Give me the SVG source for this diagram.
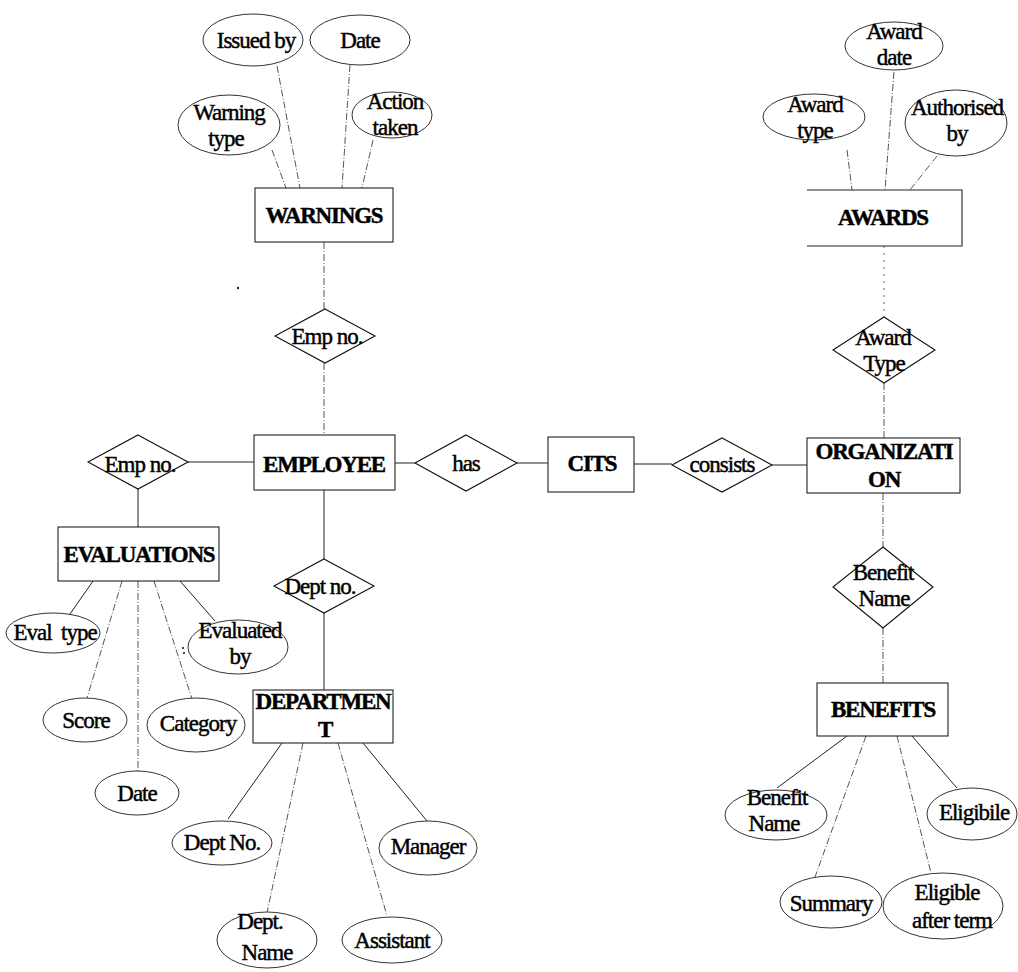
<svg xmlns="http://www.w3.org/2000/svg" width="1018" height="972" viewBox="0 0 1018 972">
  <style>
    .ent rect, .ent path { fill: #fff; stroke: #222; stroke-width: 1.1; }
    .attr ellipse { fill: #fff; stroke: #333; stroke-width: 1; }
    .rel polygon { fill: #fff; stroke: #111; stroke-width: 1.1; }
    text { font-family: "Liberation Serif", "Times New Roman", serif; fill: #000; text-anchor: middle; stroke: #000; stroke-width: 0.45; }
    .ent text { font-size: 23px; font-weight: bold; letter-spacing: -1.2px; }
    .attr text, .rel text { font-size: 23px; letter-spacing: -1px; }
    .ln { stroke: #222; stroke-width: 1; fill: none; }
    .dl { stroke: #555; stroke-width: 1; fill: none; stroke-dasharray: 7 2 1 2; }
    .dt { stroke: #666; stroke-width: 1; fill: none; stroke-dasharray: 2 5; }
  </style>

  <!-- connectors -->
  <g id="connectors">
    <!-- WARNINGS attributes -->
    <line class="dl" x1="277" y1="66" x2="300" y2="188"/>
    <line class="dl" x1="350" y1="65" x2="342" y2="188"/>
    <line class="dl" x1="272" y1="150" x2="286" y2="188"/>
    <line class="dl" x1="373" y1="140" x2="362" y2="188"/>
    <!-- WARNINGS / Emp no. / EMPLOYEE -->
    <line class="dl" x1="324" y1="242" x2="324" y2="309"/>
    <line class="dl" x1="324" y1="363" x2="324" y2="435"/>
    <!-- AWARDS attributes -->
    <line class="dl" x1="847" y1="150" x2="852" y2="190"/>
    <line class="dl" x1="894" y1="72" x2="885" y2="190"/>
    <line class="dl" x1="937" y1="156" x2="910" y2="190"/>
    <!-- AWARDS / Award Type / ORGANIZATION -->
    <line class="dt" x1="884" y1="246" x2="884" y2="317"/>
    <line class="dl" x1="884" y1="383" x2="884" y2="438"/>
    <!-- central row -->
    <line class="ln" x1="188" y1="462" x2="254" y2="462"/>
    <line class="ln" x1="395" y1="463" x2="415" y2="463"/>
    <line class="ln" x1="517" y1="463" x2="548" y2="463"/>
    <line class="ln" x1="634" y1="464" x2="672" y2="464"/>
    <line class="ln" x1="772" y1="465" x2="807" y2="465"/>
    <!-- Emp no. / EVALUATIONS -->
    <line class="ln" x1="138" y1="489" x2="138" y2="527"/>
    <!-- EVALUATIONS attributes -->
    <line class="ln" x1="93" y1="581" x2="70" y2="614"/>
    <line class="dl" x1="122" y1="581" x2="87" y2="698"/>
    <line class="dl" x1="138" y1="581" x2="138" y2="771"/>
    <line class="dl" x1="154" y1="581" x2="192" y2="699"/>
    <line class="ln" x1="180" y1="581" x2="215" y2="621"/>
    <!-- EMPLOYEE / Dept no. / DEPARTMENT -->
    <line class="ln" x1="324" y1="490" x2="324" y2="559"/>
    <line class="ln" x1="324" y1="613" x2="324" y2="690"/>
    <!-- DEPARTMENT attributes -->
    <line class="ln" x1="282" y1="743" x2="228" y2="819"/>
    <line class="dl" x1="303" y1="743" x2="267" y2="913"/>
    <line class="dl" x1="338" y1="743" x2="387" y2="916"/>
    <line class="ln" x1="363" y1="743" x2="427" y2="821"/>
    <!-- ORGANIZATION / Benefit Name / BENEFITS -->
    <line class="dl" x1="883" y1="493" x2="883" y2="547"/>
    <line class="dl" x1="883" y1="628" x2="883" y2="683"/>
    <!-- BENEFITS attributes -->
    <line class="ln" x1="847" y1="736" x2="777" y2="788"/>
    <line class="dl" x1="866" y1="736" x2="815" y2="877"/>
    <line class="dl" x1="897" y1="736" x2="931" y2="873"/>
    <line class="ln" x1="912" y1="736" x2="957" y2="788"/>
  </g>

  <!-- entities -->
  <g id="warnings" class="ent">
    <rect x="255" y="188" width="138" height="54"/>
    <text x="324" y="223">WARNINGS</text>
  </g>
  <g id="awards" class="ent">
    <!-- open on the left side -->
    <path d="M807,190 H962 V246 H807"/>
    <text x="883" y="225">AWARDS</text>
  </g>
  <g id="employee" class="ent">
    <rect x="254" y="435" width="141" height="55"/>
    <text x="324" y="472">EMPLOYEE</text>
  </g>
  <g id="cits" class="ent">
    <rect x="548" y="437" width="86" height="55"/>
    <text x="592" y="471">CITS</text>
  </g>
  <g id="organization" class="ent">
    <rect x="807" y="438" width="153" height="55"/>
    <text x="884" y="459">ORGANIZATI</text>
    <text x="884" y="487">ON</text>
  </g>
  <g id="evaluations" class="ent">
    <rect x="58" y="527" width="161" height="54"/>
    <text x="139" y="562">EVALUATIONS</text>
  </g>
  <g id="department" class="ent">
    <rect x="253" y="690" width="140" height="53"/>
    <text x="323" y="709">DEPARTMEN</text>
    <text x="325" y="737">T</text>
  </g>
  <g id="benefits" class="ent">
    <rect x="817" y="683" width="131" height="53"/>
    <text x="883" y="717">BENEFITS</text>
  </g>

  <!-- relationships -->
  <g id="rel-warn-empno" class="rel">
    <polygon points="325,309 375,336 325,363 275,336"/>
    <text x="327" y="344">Emp no.</text>
  </g>
  <g id="rel-award-type" class="rel">
    <polygon points="884,317 935,350 884,383 833,350"/>
    <text x="883" y="345">Award</text>
    <text x="884" y="371">Type</text>
  </g>
  <g id="rel-eval-empno" class="rel">
    <polygon points="138,435 188,462 138,489 88,462"/>
    <text x="140" y="472">Emp no.</text>
  </g>
  <g id="rel-has" class="rel">
    <polygon points="466,435 517,463 466,491 415,463"/>
    <text x="466" y="471">has</text>
  </g>
  <g id="rel-consists" class="rel">
    <polygon points="722,438 772,465 722,492 672,465"/>
    <text x="722" y="472">consists</text>
  </g>
  <g id="rel-deptno" class="rel">
    <polygon points="324,559 374,586 324,613 274,586"/>
    <text x="320" y="594">Dept no.</text>
  </g>
  <g id="rel-benefit-name" class="rel">
    <polygon points="883,547 933,587 883,628 833,587"/>
    <text x="883" y="580">Benefit</text>
    <text x="884" y="606">Name</text>
  </g>

  <!-- WARNINGS attributes -->
  <g id="attr-issued-by" class="attr">
    <ellipse cx="253" cy="40" rx="50" ry="26"/>
    <text x="256" y="48">Issued by</text>
  </g>
  <g id="attr-warn-date" class="attr">
    <ellipse cx="360" cy="40" rx="50" ry="25"/>
    <text x="360" y="48">Date</text>
  </g>
  <g id="attr-warning-type" class="attr">
    <ellipse cx="229" cy="125" rx="51" ry="30"/>
    <text x="229" y="120">Warning</text>
    <text x="226" y="146">type</text>
  </g>
  <g id="attr-action-taken" class="attr">
    <ellipse cx="392" cy="115" rx="40" ry="23"/>
    <text x="395" y="109">Action</text>
    <text x="395" y="135">taken</text>
  </g>

  <!-- AWARDS attributes -->
  <g id="attr-award-date" class="attr">
    <ellipse cx="894" cy="46" rx="49" ry="24"/>
    <text x="894" y="39">Award</text>
    <text x="894" y="65">date</text>
  </g>
  <g id="attr-award-type" class="attr">
    <ellipse cx="814" cy="117" rx="51" ry="23"/>
    <text x="815" y="112">Award</text>
    <text x="815" y="138">type</text>
  </g>
  <g id="attr-authorised-by" class="attr">
    <ellipse cx="956" cy="123" rx="51" ry="33"/>
    <text x="957" y="115">Authorised</text>
    <text x="957" y="141">by</text>
  </g>

  <!-- EVALUATIONS attributes -->
  <g id="attr-eval-type" class="attr">
    <ellipse cx="53" cy="633" rx="47" ry="20"/>
    <text x="55" y="640" xml:space="preserve">Eval  type</text>
  </g>
  <g id="attr-score" class="attr">
    <ellipse cx="85" cy="720" rx="42" ry="22"/>
    <text x="86" y="728">Score</text>
  </g>
  <g id="attr-eval-date" class="attr">
    <ellipse cx="137" cy="793" rx="42" ry="22"/>
    <text x="137" y="801">Date</text>
  </g>
  <g id="attr-category" class="attr">
    <ellipse cx="196" cy="725" rx="49" ry="27"/>
    <text x="198" y="731">Category</text>
  </g>
  <g id="attr-evaluated-by" class="attr">
    <ellipse cx="238" cy="647" rx="50" ry="27"/>
    <text x="240" y="638">Evaluated</text>
    <text x="240" y="664">by</text>
  </g>

  <!-- DEPARTMENT attributes -->
  <g id="attr-dept-no" class="attr">
    <ellipse cx="222" cy="843" rx="50" ry="22"/>
    <text x="222" y="850">Dept No.</text>
  </g>
  <g id="attr-dept-name" class="attr">
    <ellipse cx="267" cy="940" rx="50" ry="28"/>
    <text x="260" y="929">Dept.</text>
    <text x="267" y="960">Name</text>
  </g>
  <g id="attr-assistant" class="attr">
    <ellipse cx="392" cy="940" rx="50" ry="23"/>
    <text x="392" y="948">Assistant</text>
  </g>
  <g id="attr-manager" class="attr">
    <ellipse cx="428" cy="848" rx="49" ry="27"/>
    <text x="428" y="854">Manager</text>
  </g>

  <!-- BENEFITS attributes -->
  <g id="attr-benefit-name" class="attr">
    <ellipse cx="776" cy="815" rx="51" ry="25"/>
    <text x="777" y="805">Benefit</text>
    <text x="774" y="831">Name</text>
  </g>
  <g id="attr-summary" class="attr">
    <ellipse cx="831" cy="902" rx="51" ry="26"/>
    <text x="831" y="911">Summary</text>
  </g>
  <g id="attr-eligible-after-term" class="attr">
    <ellipse cx="943" cy="906" rx="60" ry="33"/>
    <text x="947" y="900">Eligible</text>
    <text x="952" y="928">after term</text>
  </g>
  <g id="attr-eligibile" class="attr">
    <ellipse cx="972" cy="814" rx="45" ry="26"/>
    <text x="974" y="820">Eligibile</text>
  </g>

  <!-- small specks -->
  <circle cx="238" cy="288" r="1.2" fill="#222"/>
  <rect x="182" y="647" width="2" height="2" fill="#444"/>
  <rect x="183" y="652" width="2" height="2" fill="#444"/>
</svg>
